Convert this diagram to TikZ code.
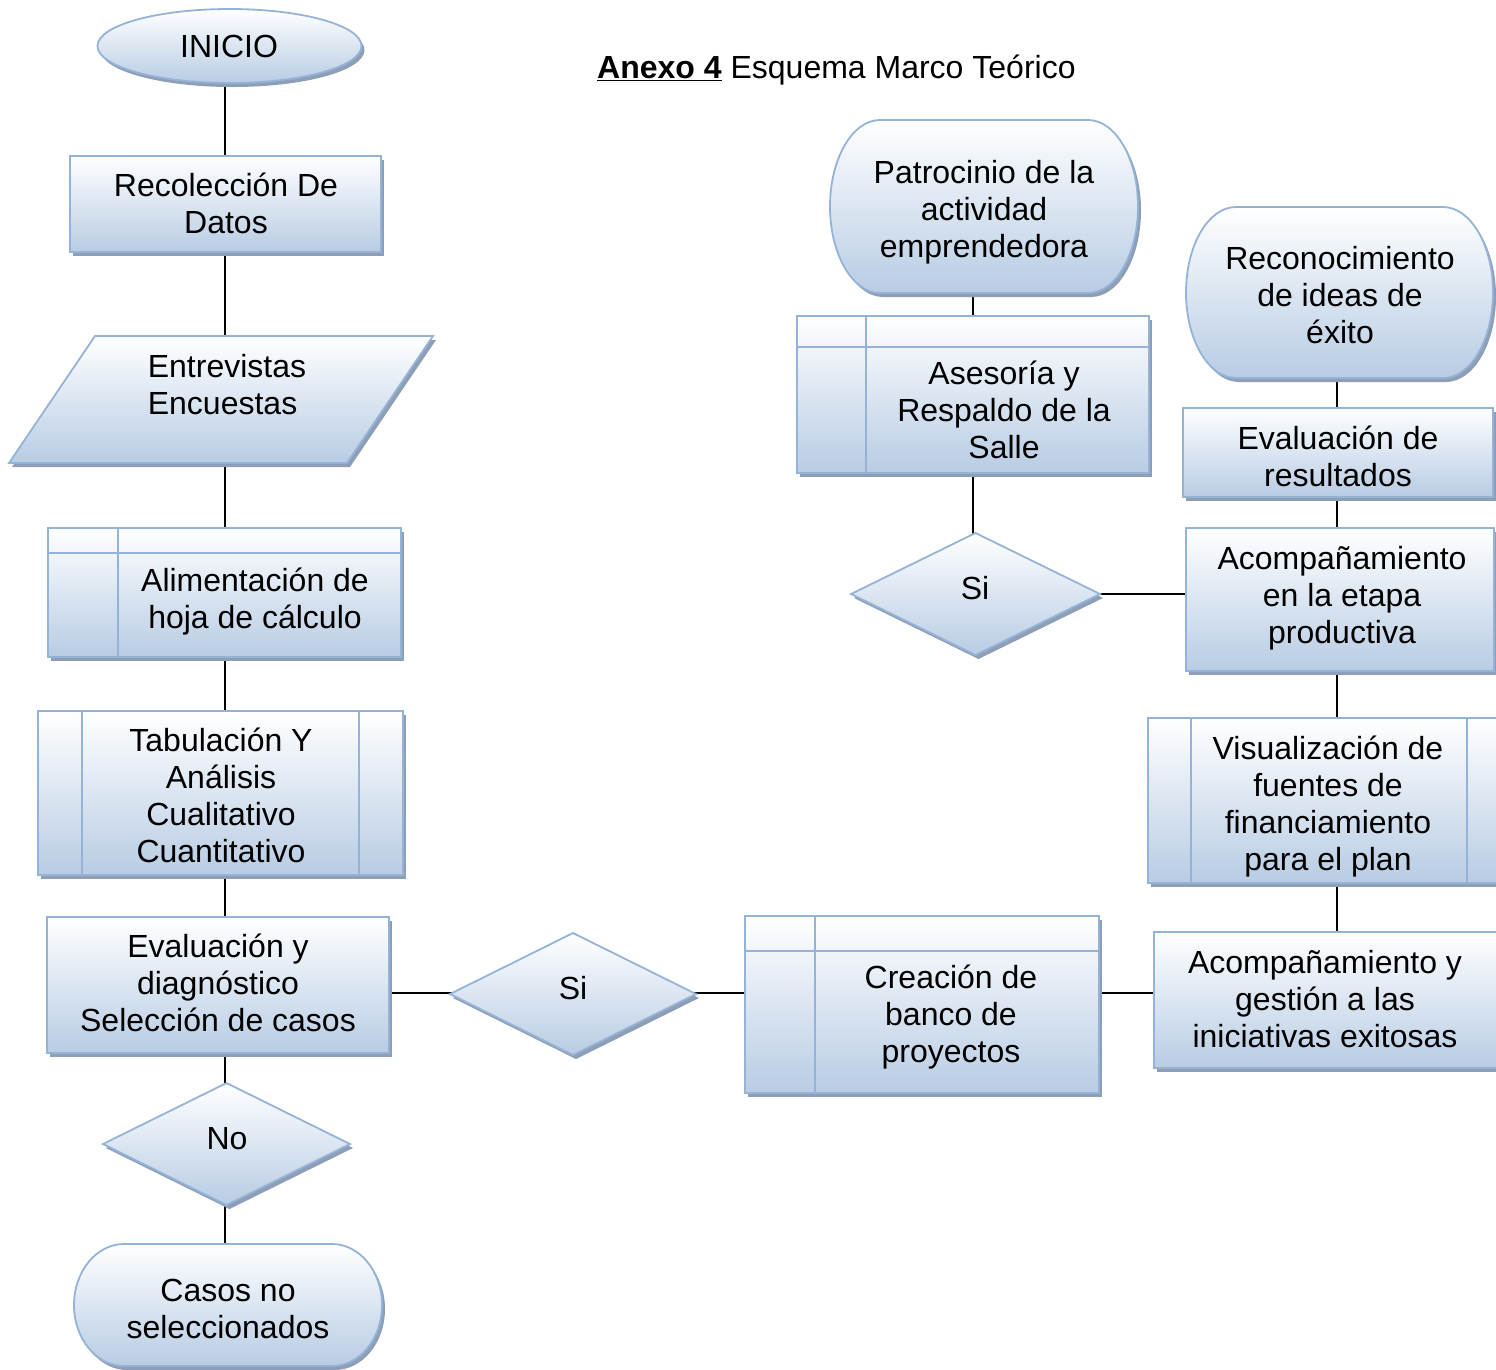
\documentclass[tikz,border=0pt]{standalone}
\usepackage{fontspec}
\setmainfont{Liberation Sans}
\usetikzlibrary{shadows,backgrounds,calc}
\definecolor{bordc}{RGB}{149,179,215}
\definecolor{fillb}{RGB}{184,204,228}
\definecolor{shadc}{RGB}{142,158,182}
\begin{document}
\begin{tikzpicture}[x=1pt,y=-1pt,
  bnd/.style={draw=none, rectangle, inner sep=0pt, outer sep=0pt},
  shp/.style={draw=bordc, line width=1.8pt, top color=white, bottom color=fillb,
    drop shadow={shadow xshift=3pt, shadow yshift=-4pt, fill=shadc, opacity=1}},
  inl/.style={draw=bordc, line width=1.8pt},
  txt/.style={align=center, inner sep=0pt, font=\fontsize{32}{37}\selectfont},
  conn/.style={draw=black, line width=1.7pt}]
\useasboundingbox (0,0) rectangle (1496,1369);
\clip (0,0) rectangle (1496,1369);
\coordinate (lx) at (225,0);
\coordinate (mx) at (973,0);
\coordinate (rx) at (1337,0);
\coordinate (ly) at (0,993);

% title
\node[txt, anchor=west] (title) at (597,71) {\strut\underline{\textbf{Anexo 4}} Esquema Marco Teórico};

% INICIO
\node[bnd, minimum width=264pt, minimum height=74pt] (inicio) at (229.5,46) {};
\path[shp] (inicio.center) ellipse [x radius=132, y radius=37];
\node[txt] (inicioT) at (229,50) {\strut INICIO};

% Recoleccion
\node[bnd, minimum width=311pt, minimum height=96pt] (recol) at (225.5,204) {};
\path[shp] (recol.north west) rectangle (recol.south east);
\node[txt] (recolT) at (226,208) {\strut Recolección De\\Datos\strut};

% Entrevistas (parallelogram)
\node[bnd, minimum width=424pt, minimum height=127pt] (entrev) at (221,399.5) {};
\path[shp] ([xshift=86pt]entrev.north west) -- (entrev.north east) -- ([xshift=-86pt]entrev.south east) -- (entrev.south west) -- cycle;
\node[txt, align=left] (entrevT) at (227,389) {\strut Entrevistas\\Encuestas\strut};

% Alimentacion
\node[bnd, minimum width=353pt, minimum height=129pt] (alim) at (224.5,592.5) {};
\path[shp] (alim.north west) rectangle (alim.south east);
\draw[inl] ([yshift=-25pt]alim.north west) -- ([yshift=-25pt]alim.north east);
\draw[inl] ([xshift=70pt]alim.north west) -- ([xshift=70pt]alim.south west);
\node[txt] (alimT) at (255,602.5) {\strut Alimentación de\\hoja de cálculo\strut};

% Tabulacion
\node[bnd, minimum width=365pt, minimum height=164pt] (tab) at (220.5,793) {};
\path[shp] (tab.north west) rectangle (tab.south east);
\draw[inl] ([xshift=44pt]tab.north west) -- ([xshift=44pt]tab.south west);
\draw[inl] ([xshift=-44pt]tab.north east) -- ([xshift=-44pt]tab.south east);
\node[txt] (tabT) at (221,799.5) {\strut Tabulación Y\\Análisis\\Cualitativo\\Cuantitativo\strut};

% Evaluacion y diagnostico
\node[bnd, minimum width=342pt, minimum height=136pt] (evald) at (218,985) {};
\path[shp] (evald.north west) rectangle (evald.south east);
\node[txt] (evaldT) at (218,987) {\strut Evaluación y\\diagnóstico\\Selección de casos\strut};

% No diamond
\node[bnd, minimum width=247pt, minimum height=122pt] (no) at (226.5,1144) {};
\path[shp] (no.north) -- (no.east) -- (no.south) -- (no.west) -- cycle;
\node[txt] (noT) at (227,1142) {\strut No};

% Casos no seleccionados
\node[bnd, minimum width=308pt, minimum height=122pt] (casos) at (228,1305) {};
\path[shp] ([xshift=50pt]casos.north west) -- ([xshift=-50pt]casos.north east)
  arc[start angle=-90, end angle=90, x radius=50, y radius=61]
  -- ([xshift=50pt]casos.south west)
  arc[start angle=90, end angle=270, x radius=50, y radius=61] -- cycle;
\node[txt] (casosT) at (228,1312.5) {\strut Casos no\\seleccionados\strut};

% Si (lower)
\node[bnd, minimum width=246pt, minimum height=122pt] (si1) at (573,994) {};
\path[shp] (si1.north) -- (si1.east) -- (si1.south) -- (si1.west) -- cycle;
\node[txt] (si1T) at (573,992) {\strut Si};

% Creacion de banco
\node[bnd, minimum width=354pt, minimum height=177pt] (crea) at (922,1004.5) {};
\path[shp] (crea.north west) rectangle (crea.south east);
\draw[inl] ([yshift=-35pt]crea.north west) -- ([yshift=-35pt]crea.north east);
\draw[inl] ([xshift=70pt]crea.north west) -- ([xshift=70pt]crea.south west);
\node[txt] (creaT) at (951,1018) {\strut Creación de\\banco de\\proyectos\strut};

% Acompanamiento y gestion
\node[bnd, minimum width=343pt, minimum height=136pt] (acomg) at (1325.5,1000) {};
\path[shp] (acomg.north west) rectangle (acomg.south east);
\node[txt] (acomgT) at (1325,1003) {\strut Acompañamiento y\\gestión a las\\iniciativas exitosas\strut};

% Visualizacion
\node[bnd, minimum width=362pt, minimum height=165pt] (visual) at (1329,800.5) {};
\path[shp] (visual.north west) rectangle (visual.south east);
\draw[inl] ([xshift=43pt]visual.north west) -- ([xshift=43pt]visual.south west);
\draw[inl] ([xshift=-43pt]visual.north east) -- ([xshift=-43pt]visual.south east);
\node[txt] (visualT) at (1328,807.5) {\strut Visualización de\\fuentes de\\financiamiento\\para el plan\strut};

% Acompanamiento etapa productiva
\node[bnd, minimum width=308pt, minimum height=143pt] (acomp) at (1340,599.5) {};
\path[shp] (acomp.north west) rectangle (acomp.south east);
\node[txt] (acompT) at (1342,599) {\strut Acompañamiento\\en la etapa\\productiva\strut};

% Evaluacion de resultados
\node[bnd, minimum width=310pt, minimum height=89pt] (evalr) at (1338,452.5) {};
\path[shp] (evalr.north west) rectangle (evalr.south east);
\node[txt] (evalrT) at (1338,460.5) {\strut Evaluación de\\resultados\strut};

% Reconocimiento
\node[bnd, minimum width=307pt, minimum height=171pt] (recon) at (1339.5,292.5) {};
\path[shp] ([xshift=50pt]recon.north west) -- ([xshift=-50pt]recon.north east)
  arc[start angle=-90, end angle=90, x radius=50, y radius=85.5]
  -- ([xshift=50pt]recon.south west)
  arc[start angle=90, end angle=270, x radius=50, y radius=85.5] -- cycle;
\node[txt] (reconT) at (1340,299) {\strut Reconocimiento\\de ideas de\\éxito\strut};

% Patrocinio
\node[bnd, minimum width=308pt, minimum height=173pt] (patro) at (984,206.5) {};
\path[shp] ([xshift=50pt]patro.north west) -- ([xshift=-50pt]patro.north east)
  arc[start angle=-90, end angle=90, x radius=50, y radius=86.5]
  -- ([xshift=50pt]patro.south west)
  arc[start angle=90, end angle=270, x radius=50, y radius=86.5] -- cycle;
\node[txt] (patroT) at (984,213.5) {\strut Patrocinio de la\\actividad\\emprendedora\strut};

% Asesoria
\node[bnd, minimum width=352pt, minimum height=157pt] (ases) at (973,394.5) {};
\path[shp] (ases.north west) rectangle (ases.south east);
\draw[inl] ([yshift=-31pt]ases.north west) -- ([yshift=-31pt]ases.north east);
\draw[inl] ([xshift=69pt]ases.north west) -- ([xshift=69pt]ases.south west);
\node[txt] (asesT) at (1004,414) {\strut Asesoría y\\Respaldo de la\\Salle\strut};

% Si (upper)
\node[bnd, minimum width=249pt, minimum height=122pt] (si2) at (975.5,594) {};
\path[shp] (si2.north) -- (si2.east) -- (si2.south) -- (si2.west) -- cycle;
\node[txt] (si2T) at (975,592) {\strut Si};

% connectors
\begin{scope}[on background layer]
\draw[conn] (inicio.center -| lx) -- (recol.center -| lx) -- (entrev.center -| lx) -- (alim.center -| lx)
  -- (tab.center -| lx) -- (evald.center -| lx) -- (no.center -| lx) -- (casos.center -| lx);
\draw[conn] (evald.center |- ly) -- (si1.center |- ly) -- (crea.center |- ly) -- (acomg.center |- ly);
\draw[conn] (recon.center -| rx) -- (evalr.center -| rx) -- (acomp.center -| rx) -- (visual.center -| rx) -- (acomg.center -| rx);
\draw[conn] (patro.center -| mx) -- (ases.center -| mx) -- (si2.center -| mx);
\draw[conn] (si2.center) -- (acomp.center |- si2.center);
\end{scope}
\end{tikzpicture}
\end{document}
